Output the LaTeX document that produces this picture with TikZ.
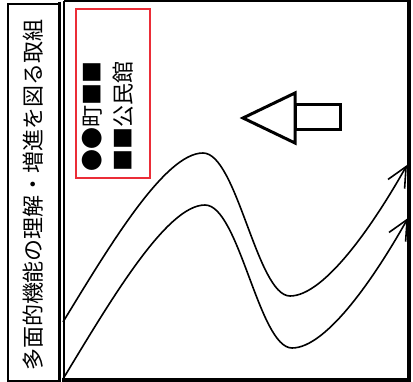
\documentclass[tikz,border=0pt]{standalone}
\usepackage{fontspec}
\newfontfamily\jp{Noto Sans CJK JP}
\usetikzlibrary{arrows.meta}
\definecolor{boxred}{RGB}{235,45,55}
\begin{document}
\begin{tikzpicture}[x=1pt,y=-1pt,
  vtext/.style={font=\jp\fontsize{22}{22}\selectfont, rotate=90, inner sep=0pt},
  flow/.style={line width=1.6pt, -{Straight Barb[length=20pt,width=19pt,line width=1.6pt]}},
  hollow/.style={line width=3pt, line join=miter}]
\useasboundingbox (0,0) rectangle (413,382);
\fill[white] (0,0) rectangle (413,382);
% left title box
\draw[line width=1.5pt] (8,4) rectangle (59,381);
\draw[line width=3.5pt] (59.3,2) -- (59.3,382);
\node[vtext] (title) at (33.5,195) {多面的機能の理解・増進を図る取組};
% main frame
\draw[line width=1.5pt] (64,1) -- (408,1);
\draw[line width=1.5pt] (64,1) -- (64,380);
\draw[line width=4pt] (408.5,0) -- (408.5,382);
\draw[line width=4pt] (62,380) -- (410.5,380);
% red label box
\draw[boxred, line width=2.7pt] (76,9) rectangle (150,178);
\node[vtext] (l1) at (92,117) {●●町■■};
\node[vtext] (l2) at (123,117) {■■公民館};
% hollow arrow
\draw[hollow] (243,118) -- (295,93) -- (295,143) -- cycle;
\draw[hollow] (295,105) rectangle (340,130);
% curves
\coordinate (a0) at (63,322);
\coordinate (a1) at (203,153);
\coordinate (a2) at (290,296);
\coordinate (a3) at (407,165);
\coordinate (b0) at (63,379);
\coordinate (b1) at (205,205);
\coordinate (b2) at (292,348);
\coordinate (b3) at (408,218);
\draw[flow] (a0) .. controls (110,245) and (165,153) .. (a1)
  .. controls (237,153) and (257,296) .. (a2)
  .. controls (325,296) and (375,222) .. (a3);
\draw[flow] (b0) .. controls (112,298) and (167,205) .. (b1)
  .. controls (239,205) and (259,348) .. (b2)
  .. controls (327,348) and (376,275) .. (b3);
\end{tikzpicture}
\end{document}
